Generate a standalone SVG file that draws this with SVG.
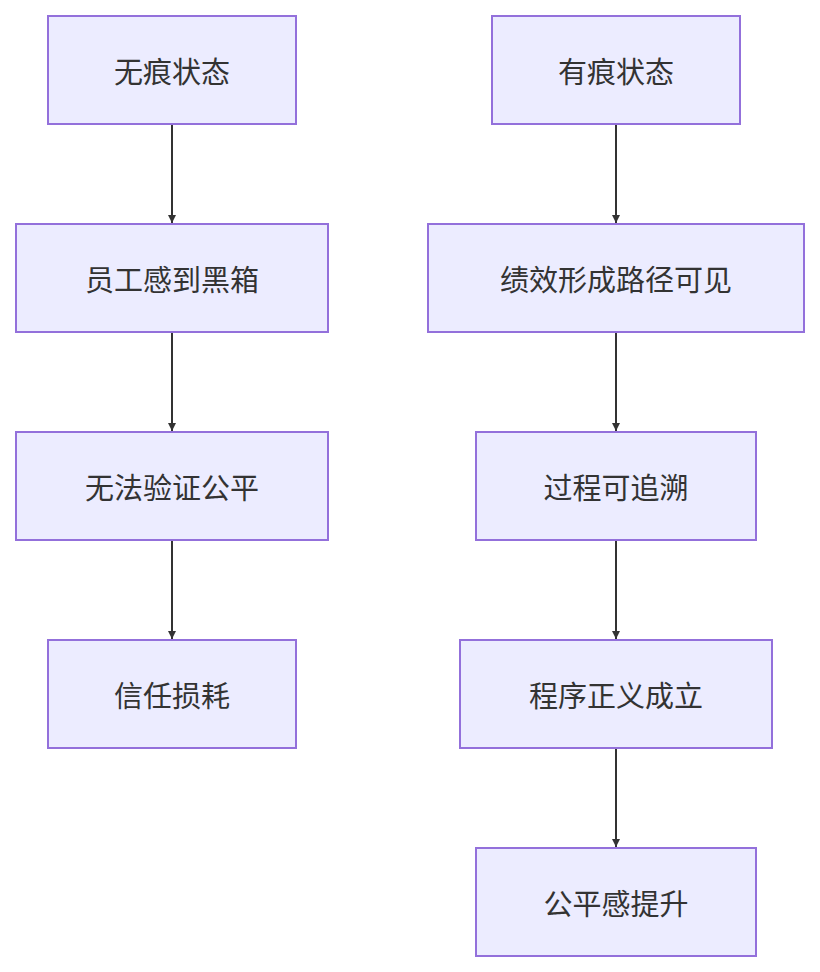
<svg xmlns="http://www.w3.org/2000/svg" width="820" height="972" viewBox="0 0 820 972">
<style>
.n rect{fill:#ECECFF;stroke:#9370DB;stroke-width:2}
.n text{font-family:"Noto Sans CJK SC","Noto Sans",sans-serif;font-size:29px;fill:#333;text-anchor:middle;dominant-baseline:central}
.e line{stroke:#333;stroke-width:2;marker-end:url(#a)}
</style>
<defs><marker id="a" viewBox="0 0 10 10" refX="10" refY="5" markerWidth="8" markerHeight="8" markerUnits="userSpaceOnUse" orient="auto"><path d="M0,0L10,5L0,10z" fill="#333"/></marker></defs>
<rect width="820" height="972" fill="#fff"/>
<g class="e">
<line x1="172" y1="124" x2="172" y2="223"/>
<line x1="172" y1="332" x2="172" y2="431"/>
<line x1="172" y1="540" x2="172" y2="639"/>
<line x1="616" y1="124" x2="616" y2="223"/>
<line x1="616" y1="332" x2="616" y2="431"/>
<line x1="616" y1="540" x2="616" y2="639"/>
<line x1="616" y1="748" x2="616" y2="847"/>
</g>
<g class="n" id="L1"><rect x="48" y="16" width="248" height="108"/><text x="172" y="70">无痕状态</text></g>
<g class="n" id="L2"><rect x="16" y="224" width="312" height="108"/><text x="172" y="278">员工感到黑箱</text></g>
<g class="n" id="L3"><rect x="16" y="432" width="312" height="108"/><text x="172" y="486">无法验证公平</text></g>
<g class="n" id="L4"><rect x="48" y="640" width="248" height="108"/><text x="172" y="694">信任损耗</text></g>
<g class="n" id="R1"><rect x="492" y="16" width="248" height="108"/><text x="616" y="70">有痕状态</text></g>
<g class="n" id="R2"><rect x="428" y="224" width="376" height="108"/><text x="616" y="278">绩效形成路径可见</text></g>
<g class="n" id="R3"><rect x="476" y="432" width="280" height="108"/><text x="616" y="486">过程可追溯</text></g>
<g class="n" id="R4"><rect x="460" y="640" width="312" height="108"/><text x="616" y="694">程序正义成立</text></g>
<g class="n" id="R5"><rect x="476" y="848" width="280" height="108"/><text x="616" y="902">公平感提升</text></g>
</svg>
